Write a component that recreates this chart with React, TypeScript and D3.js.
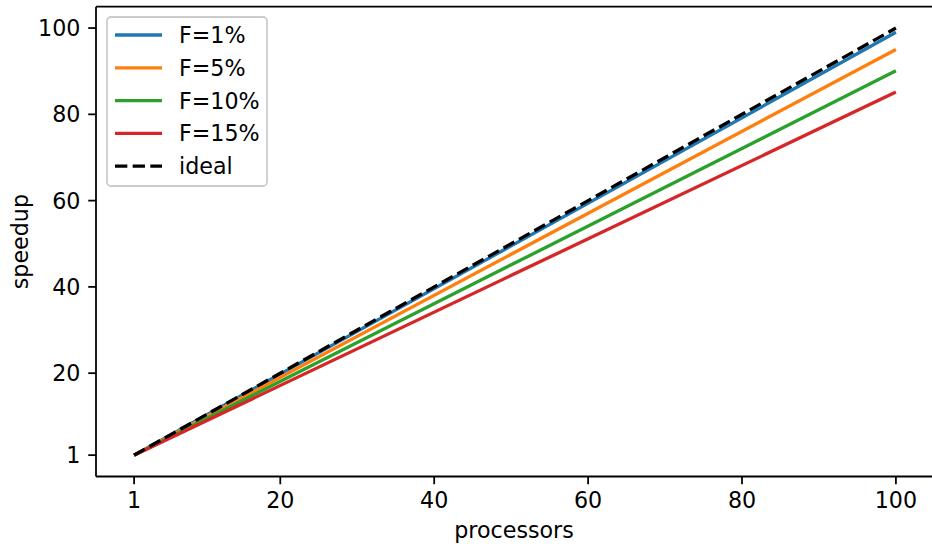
import React from "react";
import * as d3 from "d3";

const processors = [1, 100];
const seriesNames = ["F=1%", "F=5%", "F=10%", "F=15%", "ideal"];
const speedupF1 = [1, 99.01];
const speedupF5 = [1, 95.05];
const speedupF10 = [1, 90.1];
const speedupF15 = [1, 85.15];
const speedupIdeal = [1, 100];
const xTicks = [1, 20, 40, 60, 80, 100];
const yTicks = [1, 20, 40, 60, 80, 100];
const colors = ["#1f77b4", "#ff7f0e", "#2ca02c", "#d62728", "#000000"];

const W = 932;
const H = 544;
const FONT = "DejaVu Sans, sans-serif";
const PT = 2.22;
const FS = 10 * PT;

export default function App() {
  const left = 96, right = 934, top = 6.7, bottom = 476.5;
  const x = d3.scaleLinear().domain([-3.95, 104.95]).range([left, right]);
  const y = d3.scaleLinear().domain([-3.95, 104.95]).range([bottom, top]);
  const all = [speedupF1, speedupF5, speedupF10, speedupF15, speedupIdeal];
  const line = d3
    .line<number>()
    .x((_, i) => x(processors[i]))
    .y((d) => y(d));
  const lw = 1.5 * PT;
  const dash = `${3.7 * 1.5 * PT} ${1.6 * 1.5 * PT}`;
  const tickLen = 3.5 * PT;
  const sw = 0.8 * PT;
  const legX = 107, legY = 17, legW = 160, legH = 169;
  return (
    <svg width={W} height={H} style={{ position: "absolute", left: 0, top: 0 }}>
      <rect width={W} height={H} fill="#fff" />
      <defs>
        <clipPath id="clip">
          <rect x={left} y={top} width={right - left} height={bottom - top} />
        </clipPath>
      </defs>
      <g clipPath="url(#clip)">
        {all.map((s, i) => (
          <path
            key={i}
            d={line(s) || ""}
            fill="none"
            stroke={colors[i]}
            strokeWidth={lw}
            strokeDasharray={i === 4 ? dash : undefined}
          />
        ))}
      </g>
      <g stroke="#000" strokeWidth={sw} fill="none">
        <line x1={left} x2={left} y1={top} y2={bottom} />
        <line x1={left} x2={right} y1={bottom} y2={bottom} />
        <line x1={left} x2={right} y1={top} y2={top} />
        <line x1={right} x2={right} y1={top} y2={bottom} />
      </g>
      {xTicks.map((t) => (
        <g key={"x" + t}>
          <line x1={x(t)} x2={x(t)} y1={bottom} y2={bottom + tickLen} stroke="#000" strokeWidth={sw} />
          <text x={x(t)} y={508} textAnchor="middle" fontFamily={FONT} fontSize={FS} fill="#000">
            {t}
          </text>
        </g>
      ))}
      {yTicks.map((t) => (
        <g key={"y" + t}>
          <line x1={left - tickLen} x2={left} y1={y(t)} y2={y(t)} stroke="#000" strokeWidth={sw} />
          <text x={left - tickLen - 3.5 * PT} y={y(t)} dy="0.36em" textAnchor="end" fontFamily={FONT} fontSize={FS} fill="#000">
            {t}
          </text>
        </g>
      ))}
      <text x={(left + right) / 2 - 1} y={538} textAnchor="middle" fontFamily={FONT} fontSize={FS} fill="#000">
        processors
      </text>
      <text
        transform={`translate(28, ${(top + bottom) / 2}) rotate(-90)`}
        textAnchor="middle"
        fontFamily={FONT}
        fontSize={FS}
        fill="#000"
      >
        speedup
      </text>
      <rect x={legX} y={legY} width={legW} height={legH} rx={4} fill="#fff" fillOpacity={0.8} stroke="#cccccc" strokeWidth={sw} />
      {seriesNames.map((n, i) => {
        const cy = 35 + i * 32.8;
        return (
          <g key={n}>
            <line
              x1={115}
              x2={162}
              y1={cy}
              y2={cy}
              stroke={colors[i]}
              strokeWidth={lw}
              strokeDasharray={i === 4 ? dash : undefined}
            />
            <text x={179} y={cy} dy="0.36em" fontFamily={FONT} fontSize={FS} fill="#000">
              {n}
            </text>
          </g>
        );
      })}
    </svg>
  );
}
